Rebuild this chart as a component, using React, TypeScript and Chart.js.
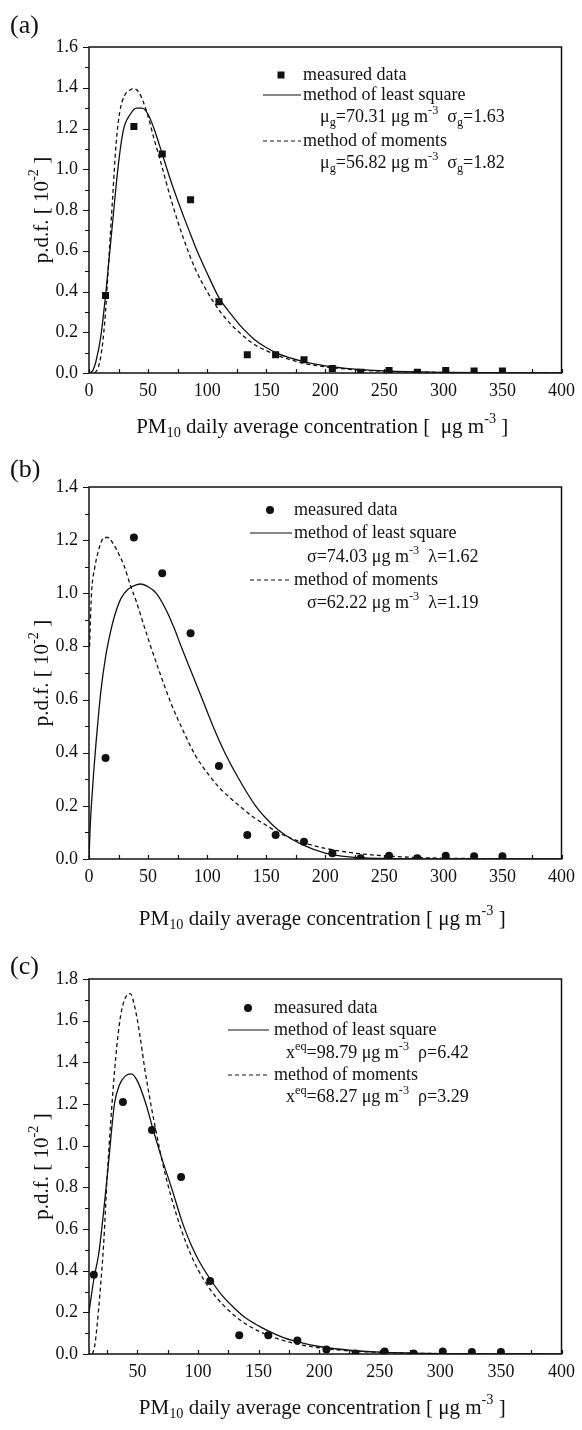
import React, { useEffect, useRef } from 'react';
import { Chart, registerables } from 'chart.js';

Chart.register(...registerables);

const FONT = "'Liberation Serif', 'Times New Roman', serif";
const INK = '#111';

// ---------- data (p.d.f. in units of 10^-2) ----------
const MEASURED_X = [14, 38, 62, 86, 110, 134, 158, 182, 206, 230, 254, 278, 302, 326, 350];
const MEASURED_Y = [0.38, 1.21, 1.075, 0.85, 0.35, 0.09, 0.09, 0.065, 0.022, 0.003, 0.012, 0.003, 0.012, 0.01, 0.01];

// (a) log-normal
const A_LSQ_X = [0, 3, 6, 10, 14, 17, 20, 25, 29, 35, 40, 45, 50, 55, 62, 70, 80, 86, 90, 100, 110, 120, 130, 140, 150, 160, 180, 200, 225, 250, 300, 350, 400];
const A_LSQ_Y = [0, 0.01, 0.06, 0.18, 0.38, 0.56, 0.74, 1.03, 1.19, 1.27, 1.3, 1.3, 1.27, 1.2, 1.075, 0.93, 0.77, 0.68, 0.62, 0.49, 0.37, 0.29, 0.22, 0.165, 0.125, 0.095, 0.058, 0.035, 0.019, 0.01, 0.003, 0.001, 0];
const A_MOM_X = [5, 8, 11, 14, 17, 20, 23, 26, 30, 35, 38, 42, 46, 50, 55, 60, 70, 80, 90, 100, 110, 120, 130, 140, 150, 160, 180, 200, 225, 250, 300, 350, 400];
const A_MOM_Y = [0, 0.03, 0.12, 0.3, 0.58, 0.86, 1.13, 1.28, 1.36, 1.39, 1.395, 1.38, 1.33, 1.26, 1.15, 1.05, 0.84, 0.66, 0.51, 0.4, 0.31, 0.24, 0.185, 0.14, 0.11, 0.085, 0.05, 0.03, 0.016, 0.009, 0.003, 0.001, 0];

// (b) Weibull
const B_LSQ_X = [0, 1, 2, 4, 6, 8, 10, 14, 18, 22, 27, 33, 40, 44, 50, 57, 65, 72, 78, 87, 96, 105, 115, 127, 141, 155, 166, 180, 200, 220, 250, 300, 400];
const B_LSQ_Y = [0, 0.12, 0.2, 0.33, 0.44, 0.54, 0.63, 0.76, 0.85, 0.92, 0.98, 1.015, 1.032, 1.035, 1.025, 1.0, 0.94, 0.87, 0.8, 0.7, 0.6, 0.5, 0.4, 0.3, 0.2, 0.13, 0.09, 0.055, 0.022, 0.008, 0.002, 0, 0];
const B_MOM_X = [0.5, 2, 5, 8, 10, 13, 16, 20, 25, 30, 35, 40, 45, 50, 60, 70, 80, 90, 100, 110, 120, 130, 140, 150, 160, 170, 180, 200, 225, 250, 275, 300, 350, 400];
const B_MOM_Y = [0.8, 0.99, 1.1, 1.16, 1.19, 1.21, 1.21, 1.19, 1.15, 1.1, 1.03, 0.97, 0.9, 0.83, 0.7, 0.58, 0.48, 0.39, 0.325, 0.27, 0.228, 0.19, 0.155, 0.127, 0.1, 0.08, 0.063, 0.04, 0.022, 0.012, 0.006, 0.003, 0.001, 0];

// (c) third model
const C_LSQ_X = [10, 14, 18, 22, 26, 31, 35, 40, 45, 50, 57, 63, 70, 78, 86, 90, 95, 100, 110, 120, 130, 140, 150, 160, 170, 180, 200, 225, 250, 300, 350, 400];
const C_LSQ_Y = [0.2, 0.36, 0.48, 0.68, 0.91, 1.2, 1.29, 1.335, 1.345, 1.31, 1.2, 1.075, 0.94, 0.8, 0.65, 0.585, 0.515, 0.455, 0.36, 0.28, 0.22, 0.17, 0.135, 0.105, 0.08, 0.062, 0.036, 0.018, 0.009, 0.002, 0.0005, 0];
const C_MOM_X = [13, 15, 18, 20, 22, 25, 28, 32, 36, 40, 44, 48, 52, 56, 61, 66, 71, 78, 86, 90, 95, 100, 110, 120, 130, 140, 150, 160, 170, 180, 200, 225, 250, 300, 350, 400];
const C_MOM_Y = [0, 0.05, 0.22, 0.36, 0.52, 0.85, 1.12, 1.42, 1.62, 1.71, 1.73, 1.66, 1.53, 1.37, 1.2, 1.05, 0.91, 0.75, 0.6, 0.535, 0.465, 0.405, 0.31, 0.24, 0.185, 0.142, 0.11, 0.085, 0.066, 0.05, 0.03, 0.015, 0.008, 0.002, 0.0005, 0];

// ticks
const X_TICKS_FULL = [0, 50, 100, 150, 200, 250, 300, 350, 400];
const X_MINOR_FULL = [25, 75, 125, 175, 225, 275, 325, 375];
const X_TICKS_C = [50, 100, 150, 200, 250, 300, 350, 400];
const Y_TICKS_A = [0, 0.2, 0.4, 0.6, 0.8, 1.0, 1.2, 1.4, 1.6];
const Y_MINOR_A = [0.1, 0.3, 0.5, 0.7, 0.9, 1.1, 1.3, 1.5];
const Y_TICKS_B = [0, 0.2, 0.4, 0.6, 0.8, 1.0, 1.2, 1.4];
const Y_MINOR_B = [0.1, 0.3, 0.5, 0.7, 0.9, 1.1, 1.3];
const Y_TICKS_C = [0, 0.2, 0.4, 0.6, 0.8, 1.0, 1.2, 1.4, 1.6, 1.8];
const Y_MINOR_C = [0.1, 0.3, 0.5, 0.7, 0.9, 1.1, 1.3, 1.5, 1.7];

// legend texts
const LEG_MEASURED = 'measured data';
const LEG_LSQ = 'method of least square';
const LEG_MOM = 'method of moments';

type Seg = [string, string?];

const PARAMS_A1: Seg[] = [['μ'], ['g', 'sub'], ['=70.31 μg m'], ['-3', 'sup'], ['  σ'], ['g', 'sub'], ['=1.63']];
const PARAMS_A2: Seg[] = [['μ'], ['g', 'sub'], ['=56.82 μg m'], ['-3', 'sup'], ['  σ'], ['g', 'sub'], ['=1.82']];
const PARAMS_B1: Seg[] = [['σ=74.03 μg m'], ['-3', 'sup'], ['  λ=1.62']];
const PARAMS_B2: Seg[] = [['σ=62.22 μg m'], ['-3', 'sup'], ['  λ=1.19']];
const PARAMS_C1: Seg[] = [['x'], ['eq', 'sup'], ['=98.79 μg m'], ['-3', 'sup'], ['  ρ=6.42']];
const PARAMS_C2: Seg[] = [['x'], ['eq', 'sup'], ['=68.27 μg m'], ['-3', 'sup'], ['  ρ=3.29']];

const X_TITLE_A: Seg[] = [['PM'], ['10', 'sub'], [' daily average concentration [  μg m'], ['-3', 'sup'], [' ]']];
const X_TITLE_BC: Seg[] = [['PM'], ['10', 'sub'], [' daily average concentration [ μg m'], ['-3', 'sup'], [' ]']];
const Y_TITLE: Seg[] = [['p.d.f. [ 10'], ['-2', 'sup'], [' ]']];

function drawRich(ctx: CanvasRenderingContext2D, x: number, y: number, segs: Seg[], size: number, align: 'left' | 'center' = 'left') {
  const small = size * 0.68;
  const widths = segs.map(([t, m]) => {
    ctx.font = `${m ? small : size}px ${FONT}`;
    return ctx.measureText(t).width;
  });
  const total = widths.reduce((a, b) => a + b, 0);
  let cx = align === 'center' ? x - total / 2 : x;
  ctx.textAlign = 'left';
  ctx.textBaseline = 'middle';
  segs.forEach(([t, m], i) => {
    ctx.font = `${m ? small : size}px ${FONT}`;
    const dy = m === 'sub' ? size * 0.3 : m === 'sup' ? -size * 0.36 : 0;
    ctx.fillText(t, cx, y + dy);
    cx += widths[i];
  });
}

interface PanelCfg {
  tag: string;
  T: number;
  H: number;
  plotTop: number;
  plotBottom: number;
  xMin: number;
  yMax: number;
  xTicks: number[];
  xMinor: number[];
  yTicks: number[];
  yMinor: number[];
  marker: 'rect' | 'circle';
  lsqX: number[];
  lsqY: number[];
  momX: number[];
  momY: number[];
  xTitle: Seg[];
  xTitleOffset: number;
  tagY: number;
  legend: {
    markerX: number;
    lineX0: number;
    lineX1: number;
    textX: number;
    paramX: number;
    rows: number[];
    p1: Seg[];
    p2: Seg[];
  };
}

const PANELS: PanelCfg[] = [
  {
    tag: '(a)', T: 0, H: 455, plotTop: 47, plotBottom: 373, xMin: 0, yMax: 1.6,
    xTicks: X_TICKS_FULL, xMinor: X_MINOR_FULL, yTicks: Y_TICKS_A, yMinor: Y_MINOR_A,
    marker: 'rect', lsqX: A_LSQ_X, lsqY: A_LSQ_Y, momX: A_MOM_X, momY: A_MOM_Y,
    xTitle: X_TITLE_A, xTitleOffset: 54, tagY: 26,
    legend: { markerX: 281, lineX0: 263, lineX1: 301, textX: 303, paramX: 320, rows: [75, 95, 117, 141, 163], p1: PARAMS_A1, p2: PARAMS_A2 },
  },
  {
    tag: '(b)', T: 455, H: 485, plotTop: 487, plotBottom: 859, xMin: 0, yMax: 1.4,
    xTicks: X_TICKS_FULL, xMinor: X_MINOR_FULL, yTicks: Y_TICKS_B, yMinor: Y_MINOR_B,
    marker: 'circle', lsqX: B_LSQ_X, lsqY: B_LSQ_Y, momX: B_MOM_X, momY: B_MOM_Y,
    xTitle: X_TITLE_BC, xTitleOffset: 60, tagY: 470,
    legend: { markerX: 270, lineX0: 250, lineX1: 292, textX: 294, paramX: 307, rows: [510, 533, 557, 580, 603], p1: PARAMS_B1, p2: PARAMS_B2 },
  },
  {
    tag: '(c)', T: 940, H: 490, plotTop: 979, plotBottom: 1354, xMin: 10, yMax: 1.8,
    xTicks: X_TICKS_C, xMinor: X_MINOR_FULL, yTicks: Y_TICKS_C, yMinor: Y_MINOR_C,
    marker: 'circle', lsqX: C_LSQ_X, lsqY: C_LSQ_Y, momX: C_MOM_X, momY: C_MOM_Y,
    xTitle: X_TITLE_BC, xTitleOffset: 54, tagY: 967,
    legend: { markerX: 248, lineX0: 228, lineX1: 269, textX: 274, paramX: 286, rows: [1008, 1030, 1053, 1075, 1097], p1: PARAMS_C1, p2: PARAMS_C2 },
  },
];

const W = 582;
const PLOT_LEFT = 89;
const PLOT_RIGHT = 566;
const X_AXIS_H = 60;

function zip(xs: number[], ys: number[]) {
  return xs.map((x, i) => ({ x, y: ys[i] }));
}

function Panel({ cfg }: { cfg: PanelCfg }) {
  const ref = useRef<HTMLCanvasElement | null>(null);
  useEffect(() => {
    const canvas = ref.current;
    if (!canvas) return;
    const T = cfg.T;
    const padTop = cfg.plotTop - T;
    const padBottom = cfg.H - (cfg.plotBottom - T) - X_AXIS_H;

    const deco = {
      id: 'deco',
      afterDraw(chart: any) {
        const ctx: CanvasRenderingContext2D = chart.ctx;
        const a = chart.chartArea;
        const xs = chart.scales.x;
        const ys = chart.scales.y;
        ctx.save();
        ctx.strokeStyle = INK;
        ctx.fillStyle = INK;
        // frame
        ctx.lineWidth = 1.5;
        ctx.strokeRect(a.left, a.top, a.right - a.left, a.bottom - a.top);
        // x ticks (inward)
        ctx.lineWidth = 1.2;
        ctx.beginPath();
        [...cfg.xTicks, ...cfg.xMinor].forEach((v) => {
          if (v < cfg.xMin) return;
          const px = Math.round(xs.getPixelForValue(v)) + 0.5;
          ctx.moveTo(px, a.bottom);
          ctx.lineTo(px, a.bottom - 4);
        });
        // y ticks (outward)
        cfg.yTicks.forEach((v) => {
          const py = Math.round(ys.getPixelForValue(v)) + 0.5;
          ctx.moveTo(a.left, py);
          ctx.lineTo(a.left - 6, py);
        });
        cfg.yMinor.forEach((v) => {
          const py = Math.round(ys.getPixelForValue(v)) + 0.5;
          ctx.moveTo(a.left, py);
          ctx.lineTo(a.left - 4, py);
        });
        ctx.stroke();

        // axis titles
        drawRich(ctx, (a.left + a.right) / 2 - 3, a.bottom + cfg.xTitleOffset, cfg.xTitle, 21, 'center');
        ctx.save();
        ctx.translate(42, (a.top + a.bottom) / 2);
        ctx.rotate(-Math.PI / 2);
        drawRich(ctx, 0, 0, Y_TITLE, 21, 'center');
        ctx.restore();

        // panel tag
        ctx.font = `26px ${FONT}`;
        ctx.textAlign = 'left';
        ctx.textBaseline = 'middle';
        ctx.fillText(cfg.tag, 10, cfg.tagY - T);

        // legend
        const L = cfg.legend;
        const r = L.rows.map((y) => y - T);
        if (cfg.marker === 'rect') {
          ctx.fillRect(L.markerX - 3.5, r[0] - 3.5, 7, 7);
        } else {
          ctx.beginPath();
          ctx.arc(L.markerX, r[0], 4, 0, Math.PI * 2);
          ctx.fill();
        }
        ctx.lineWidth = 1.2;
        ctx.beginPath();
        ctx.moveTo(L.lineX0, r[1]);
        ctx.lineTo(L.lineX1, r[1]);
        ctx.stroke();
        ctx.setLineDash([4, 3]);
        ctx.beginPath();
        ctx.moveTo(L.lineX0, r[3]);
        ctx.lineTo(L.lineX1, r[3]);
        ctx.stroke();
        ctx.setLineDash([]);
        ctx.font = `18px ${FONT}`;
        ctx.textAlign = 'left';
        ctx.textBaseline = 'middle';
        ctx.fillText(LEG_MEASURED, L.textX, r[0]);
        ctx.fillText(LEG_LSQ, L.textX, r[1]);
        drawRich(ctx, L.paramX, r[2], L.p1, 18);
        ctx.fillText(LEG_MOM, L.textX, r[3]);
        drawRich(ctx, L.paramX, r[4], L.p2, 18);
        ctx.restore();
      },
    };

    const chart = new Chart(canvas, {
      type: 'scatter',
      data: {
        datasets: [
          {
            label: 'measured data',
            data: zip(MEASURED_X, MEASURED_Y),
            pointStyle: cfg.marker,
            pointRadius: cfg.marker === 'rect' ? 5 : 4,
            backgroundColor: INK,
            borderColor: INK,
            borderWidth: 0,
            showLine: false,
          } as any,
          {
            label: 'method of least square',
            data: zip(cfg.lsqX, cfg.lsqY),
            showLine: true,
            pointRadius: 0,
            borderColor: INK,
            borderWidth: 1.3,
            cubicInterpolationMode: 'monotone',
            fill: false,
          } as any,
          {
            label: 'method of moments',
            data: zip(cfg.momX, cfg.momY),
            showLine: true,
            pointRadius: 0,
            borderColor: INK,
            borderWidth: 1.3,
            borderDash: [4, 3],
            cubicInterpolationMode: 'monotone',
            fill: false,
          } as any,
        ],
      },
      options: {
        animation: false,
        responsive: false,
        devicePixelRatio: 1,
        events: [],
        layout: { padding: { left: 0, right: W - PLOT_RIGHT, top: padTop, bottom: padBottom } },
        plugins: { legend: { display: false }, tooltip: { enabled: false }, title: { display: false } },
        scales: {
          x: {
            type: 'linear',
            min: cfg.xMin,
            max: 400,
            grid: { display: false, drawTicks: false },
            border: { display: false },
            afterBuildTicks: (s: any) => {
              s.ticks = cfg.xTicks.map((v) => ({ value: v }));
            },
            afterFit: (s: any) => {
              s.height = X_AXIS_H;
            },
            ticks: {
              color: INK,
              padding: 7,
              maxRotation: 0,
              autoSkip: false,
              font: { family: FONT, size: 18 },
              callback: (v: any) => String(v),
            },
          },
          y: {
            type: 'linear',
            min: 0,
            max: cfg.yMax,
            grid: { display: false, drawTicks: false },
            border: { display: false },
            afterBuildTicks: (s: any) => {
              s.ticks = cfg.yTicks.map((v) => ({ value: v }));
            },
            afterFit: (s: any) => {
              s.width = PLOT_LEFT;
            },
            ticks: {
              color: INK,
              padding: 11,
              autoSkip: false,
              font: { family: FONT, size: 18 },
              callback: (v: any) => Number(v).toFixed(1),
            },
          },
        },
      },
      plugins: [deco],
    } as any);
    return () => chart.destroy();
  }, [cfg]);

  return (
    <canvas
      ref={ref}
      width={W}
      height={cfg.H}
      style={{ position: 'absolute', left: 0, top: cfg.T, width: W, height: cfg.H, display: 'block' }}
    />
  );
}

export default function App() {
  return (
    <div style={{ position: 'absolute', left: 0, top: 0, width: W, height: 1430, background: '#fff', overflow: 'hidden' }}>
      {PANELS.map((p) => (
        <Panel key={p.tag} cfg={p} />
      ))}
    </div>
  );
}
